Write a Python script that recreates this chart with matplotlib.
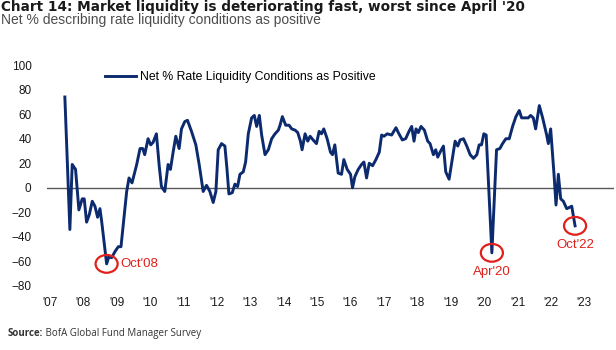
import matplotlib
matplotlib.use("Agg")
import matplotlib.pyplot as plt
from matplotlib.patches import Ellipse

# survey dates (decimal years) and net % values
dates = [2007.45, 2007.60, 2007.67, 2007.77, 2007.87, 2007.97, 2008.03, 2008.10, 2008.18, 2008.27,
         2008.35, 2008.43, 2008.50, 2008.55, 2008.70, 2008.77, 2008.85, 2008.95, 2009.05, 2009.13,
         2009.30, 2009.37, 2009.46, 2009.60, 2009.70, 2009.78, 2009.84, 2009.94, 2010.02, 2010.09,
         2010.19, 2010.27, 2010.34, 2010.44, 2010.54, 2010.61, 2010.69, 2010.77, 2010.87, 2010.94,
         2011.04, 2011.12, 2011.24, 2011.37, 2011.47, 2011.59, 2011.69, 2011.79, 2011.89, 2011.97,
         2012.04, 2012.14, 2012.24, 2012.30, 2012.36, 2012.46, 2012.54, 2012.62, 2012.69, 2012.79,
         2012.86, 2012.94, 2013.04, 2013.12, 2013.19, 2013.27, 2013.34, 2013.44, 2013.54, 2013.64,
         2013.74, 2013.84, 2013.89, 2013.96, 2014.06, 2014.16, 2014.24, 2014.34, 2014.42, 2014.50,
         2014.55, 2014.64, 2014.72, 2014.79, 2014.88, 2014.98, 2015.06, 2015.13, 2015.20, 2015.30,
         2015.40, 2015.46, 2015.53, 2015.63, 2015.73, 2015.80, 2015.90, 2016.00, 2016.06, 2016.13,
         2016.23, 2016.33, 2016.40, 2016.48, 2016.56, 2016.66, 2016.76, 2016.86, 2016.93, 2017.00,
         2017.10, 2017.23, 2017.36, 2017.43, 2017.55, 2017.65, 2017.75, 2017.83, 2017.90, 2017.96,
         2018.03, 2018.11, 2018.21, 2018.31, 2018.38, 2018.48, 2018.55, 2018.61, 2018.68, 2018.78,
         2018.85, 2018.95, 2019.03, 2019.13, 2019.21, 2019.28, 2019.38, 2019.48, 2019.58, 2019.68,
         2019.78, 2019.85, 2019.92, 2019.99, 2020.06, 2020.23, 2020.37, 2020.47, 2020.55, 2020.65,
         2020.75, 2020.85, 2020.95, 2021.05, 2021.12, 2021.22, 2021.32, 2021.39, 2021.47, 2021.54,
         2021.65, 2021.75, 2021.87, 2021.92, 2021.99, 2022.09, 2022.15, 2022.22, 2022.29, 2022.37,
         2022.47, 2022.55, 2022.62, 2022.72]
net_pct = [74, -34, 19, 15, -18, -9, -9, -28, -22, -11,
           -15, -24, -17, -27, -62, -56, -57, -52, -48, -48,
           -3, 8, 4, 19, 32, 32, 27, 40, 35, 37,
           44, 19, 1, -3, 19, 15, 29, 42, 32, 48,
           54, 55, 46, 35, 19, -3, 2, -3, -12, -3,
           31, 36, 34, 16, -5, -4, 3, 1, 11, 13,
           21, 44, 57, 59, 50, 59, 43, 27, 31, 40,
           44, 47, 51, 58, 51, 51, 48, 47, 45, 38,
           31, 44, 38, 42, 39, 36, 46, 44, 48, 40,
           29, 27, 35, 12, 11, 23, 15, 11, 0, 9,
           15, 19, 21, 8, 20, 18, 23, 29, 43, 42,
           44, 43, 49, 45, 39, 40, 46, 50, 38, 48,
           45, 50, 47, 38, 36, 27, 31, 25, 29, 34,
           13, 7, 21, 38, 34, 39, 40, 34, 27, 24,
           27, 35, 35, 44, 43, -53, 31, 32, 36, 40,
           40, 50, 58, 63, 57, 57, 57, 59, 57, 48,
           67, 57, 43, 36, 48, 11, -14, 11, -9, -11,
           -17, -16, -15, -31]

years = list(range(2007, 2024))
year_labels = ["'" + str(y)[2:] for y in years]
y_ticks = list(range(-80, 101, 20))

# highlighted lows
event_labels = ["Oct'08", "Apr'20", "Oct'22"]
event_dates = [2008.70, 2020.23, 2022.72]

navy = '#0c2a6e'
red = '#e0201b'
plt.rcParams['font.family'] = ['Liberation Sans', 'DejaVu Sans']

fig = plt.figure(figsize=(6.16, 3.5), dpi=100)
ax = fig.add_axes([0.076, 0.183, 0.921, 0.631])

ax.axhline(0, color='#595959', lw=1, zorder=1)
ax.plot(dates, net_pct, color=navy, lw=2.1, solid_joinstyle='round', zorder=3,
        label='Net % Rate Liquidity Conditions as Positive')

ax.set_xlim(2006.91, 2023.89)
ax.set_ylim(-80, 100)
ax.set_xticks(years)
ax.set_xticklabels(year_labels)
ax.set_yticks(y_ticks)
ax.tick_params(length=0, labelsize=8.5, colors='#1a1a1a')
ax.tick_params(axis='y', pad=11)
ax.tick_params(axis='x', pad=8)
for s in ax.spines.values():
    s.set_visible(False)

for lab, d in zip(event_labels, event_dates):
    v = net_pct[dates.index(d)]
    ax.add_patch(Ellipse((d, v), 0.66, 14.5, fill=False, ec=red, lw=1.6, zorder=4))
    if lab == "Oct'08":
        ax.annotate(lab, (d, v), xytext=(14, 0), textcoords='offset pixels',
                    ha='left', va='center', color=red, fontsize=9.5)
    else:
        ax.annotate(lab, (d, v), xytext=(0, -19), textcoords='offset pixels',
                    ha='center', va='center', color=red, fontsize=9.5)

ax.legend(loc='center left', bbox_to_anchor=(0.102, 0.946), frameon=False,
          borderpad=0, borderaxespad=0, handlelength=2.6, handletextpad=0.3,
          fontsize=8.8)

fig.text(0.002, 0.981, "Chart 14: Market liquidity is deteriorating fast, worst since April '20",
         fontsize=9.85, fontweight='bold', color='#1a1a1a', va='center',
         family=['DejaVu Sans'])
fig.text(0.002, 0.942, "Net % describing rate liquidity conditions as positive",
         fontsize=10, color='#4d4d4d', va='center')
src = fig.text(0.012, 0.046, "Source:", fontsize=7, fontweight='bold', color='#333333',
               va='center', family=['Open Sans', 'DejaVu Sans'])
ax.annotate(" BofA Global Fund Manager Survey", xy=(1, 0.5), xycoords=src,
            va='center', ha='left', fontsize=7, color='#333333',
            family=['Open Sans', 'DejaVu Sans'])

fig.savefig('out.png', dpi=100)
